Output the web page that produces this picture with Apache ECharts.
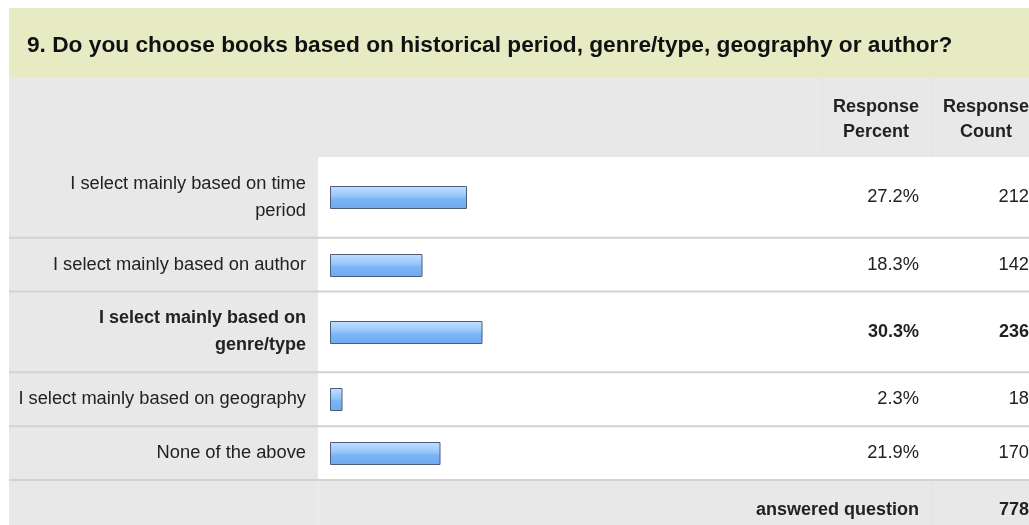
<!DOCTYPE html>
<html><head><meta charset="utf-8">
<script src="https://cdn.jsdelivr.net/npm/echarts@6/dist/echarts.min.js"></script>
<style>html,body{margin:0;padding:0;background:#fff}#c{width:1029px;height:525px}</style>
</head><body><div id="c"></div>
<script>
// ---- data ----
const titleText = '9. Do you choose books based on historical period, genre/type, geography or author?';
const categories = [
  'I select mainly based on time\nperiod',
  'I select mainly based on author',
  'I select mainly based on\ngenre/type',
  'I select mainly based on geography',
  'None of the above'
];
const percents = [27.2, 18.3, 30.3, 2.3, 21.9];
const counts = [212, 142, 236, 18, 170];
const answeredLabel = 'answered question';
const answeredCount = 778;
const headerPercent = ['Response', 'Percent'];
const headerCount = ['Response', 'Count'];
const boldRow = 2;

// ---- layout ----
const rowSpans = [3, 2, 3, 2, 2];
const FONT = 'Helvetica, Arial, "Liberation Sans", sans-serif';
const GRAY = '#e8e8e8';
const SEP = '#d2d2d2';
const TXT = '#222';
const LABEL_SIZE = '18.3px ';
const BOLD_SIZE = '18px ';

const rowCenters = [];
let acc = 0;
rowSpans.forEach(s => { rowCenters.push(acc + s / 2); acc += s; });
const totalSpan = acc;

const chart = echarts.init(document.getElementById('c'));

const seriesData = percents.map((p, i) => [p, rowCenters[i], i]);

const option = {
  animation: false,
  backgroundColor: '#fff',
  title: {
    text: titleText, left: 22, top: 29,
    textStyle: { fontFamily: FONT, fontSize: 22.7, fontWeight: 'bold', color: '#111' }
  },
  grid: { left: 330, right: 199, top: 157, bottom: 45 },
  xAxis: { type: 'value', min: 0, max: 100, show: false },
  yAxis: { type: 'value', min: 0, max: totalSpan, inverse: true, show: false },
  graphic: [
    { type: 'rect', z: -10, shape: { x: 9, y: 8, width: 1020, height: 70 }, style: { fill: '#e6ebc4' } },
    { type: 'rect', z: -10, shape: { x: 9, y: 78, width: 1020, height: 79 }, style: { fill: GRAY } },
    { type: 'rect', z: -10, shape: { x: 9, y: 157, width: 309, height: 323 }, style: { fill: GRAY } },
    { type: 'rect', z: -10, shape: { x: 9, y: 480, width: 1020, height: 45 }, style: { fill: GRAY } },
    { type: 'line', z: -9, shape: { x1: 822.5, y1: 78, x2: 822.5, y2: 157 }, style: { stroke: '#e2e2e2', lineWidth: 1 } },
    { type: 'line', z: -9, shape: { x1: 931.5, y1: 78, x2: 931.5, y2: 157 }, style: { stroke: '#e2e2e2', lineWidth: 1 } },
    { type: 'line', z: -9, shape: { x1: 318.5, y1: 481, x2: 318.5, y2: 525 }, style: { stroke: '#efefef', lineWidth: 1 } },
    { type: 'line', z: -9, shape: { x1: 931.5, y1: 481, x2: 931.5, y2: 525 }, style: { stroke: '#e0e0e0', lineWidth: 1 } },
    { type: 'text', z: 5, style: { text: headerPercent.join('\n'), x: 876, y: 120, align: 'center', verticalAlign: 'middle', lineHeight: 25, font: 'bold ' + BOLD_SIZE + FONT, fill: TXT } },
    { type: 'text', z: 5, style: { text: headerCount.join('\n'), x: 986, y: 120, align: 'center', verticalAlign: 'middle', lineHeight: 25, font: 'bold ' + BOLD_SIZE + FONT, fill: TXT } },
    { type: 'text', z: 5, style: { text: answeredLabel, x: 919, y: 510, align: 'right', verticalAlign: 'middle', font: 'bold ' + BOLD_SIZE + FONT, fill: TXT } },
    { type: 'text', z: 5, style: { text: String(answeredCount), x: 1029, y: 510, align: 'right', verticalAlign: 'middle', font: 'bold ' + BOLD_SIZE + FONT, fill: TXT } }
  ],
  series: [{
    type: 'custom',
    data: seriesData,
    clip: false,
    renderItem: function (params, api) {
      const v = api.value(0), yc = api.value(1), i = api.value(2);
      const start = api.coord([0, yc]);
      const end = api.coord([v, yc]);
      const bottom = api.coord([0, yc + rowSpans[i] / 2]);
      const bold = i === boldRow;
      const font = (bold ? 'bold ' + BOLD_SIZE : LABEL_SIZE) + FONT;
      const h = 22;
      return {
        type: 'group',
        children: [
          { type: 'line', shape: { x1: 9, y1: bottom[1], x2: 1029, y2: bottom[1] }, style: { stroke: SEP, lineWidth: 2 } },
          {
            type: 'rect',
            shape: { x: start[0] + 0.5, y: Math.round(start[1] - h / 2) + 0.5, width: end[0] - start[0], height: h },
            style: {
              fill: new echarts.graphic.LinearGradient(0, 0, 0, 1, [
                { offset: 0, color: '#c6e0ff' },
                { offset: 0.45, color: '#94c6fb' },
                { offset: 0.55, color: '#7db6f6' },
                { offset: 1, color: '#6eaaf2' }
              ]),
              stroke: '#4b5f78', lineWidth: 1
            }
          },
          { type: 'text', style: { text: categories[i], x: 306, y: start[1], align: 'right', verticalAlign: 'middle', lineHeight: 27, font: font, fill: TXT } },
          { type: 'text', style: { text: percents[i].toFixed(1) + '%', x: 919, y: start[1], align: 'right', verticalAlign: 'middle', font: font, fill: TXT } },
          { type: 'text', style: { text: String(counts[i]), x: 1029, y: start[1], align: 'right', verticalAlign: 'middle', font: font, fill: TXT } }
        ]
      };
    }
  }]
};
chart.setOption(option);
</script>
</body></html>
